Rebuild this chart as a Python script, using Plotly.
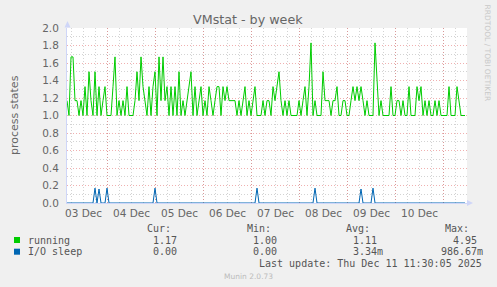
import plotly.graph_objects as go
from datetime import datetime, timedelta

# ---------------- data ----------------
start_time = datetime(2025, 12, 3, 3, 50)
hours_span = 200

running = [
    1.17, 1.0, 1.67, 1.67, 1.17, 1.17, 1.0, 1.17, 1.0, 1.33,
    1.0, 1.5, 1.17, 1.0, 1.5, 1.0, 1.33, 1.0, 1.17, 1.33,
    1.0, 1.0, 1.0, 1.33, 1.67, 1.0, 1.17, 1.0, 1.17, 1.0,
    1.33, 1.0, 1.0, 1.0, 1.17, 1.5, 1.17, 1.67, 1.33, 1.17,
    1.0, 1.33, 1.0, 1.33, 1.5, 1.0, 1.67, 1.17, 1.67, 1.17,
    1.33, 1.0, 1.33, 1.0, 1.33, 1.0, 1.5, 1.0, 1.17, 1.0,
    1.17, 1.33, 1.5, 1.0, 1.33, 1.0, 1.17, 1.33, 1.0, 1.17,
    1.0, 1.33, 1.17, 1.0, 1.17, 1.33, 1.33, 1.0, 1.33, 1.17,
    1.33, 1.17, 1.17, 1.17, 1.17, 1.0, 1.17, 1.0, 1.17, 1.33,
    1.0, 1.17, 1.0, 1.17, 1.33, 1.0, 1.0, 1.0, 1.17, 1.0,
    1.17, 1.17, 1.0, 1.33, 1.17, 1.33, 1.5, 1.17, 1.0, 1.17,
    1.0, 1.17, 1.0, 1.0, 1.0, 1.0, 1.17, 1.0, 1.17, 1.33,
    1.0, 1.33, 1.83, 1.0, 1.17, 1.0, 1.0, 1.0, 1.5, 1.17,
    1.17, 1.17, 1.0, 1.17, 1.17, 1.33, 1.0, 1.0, 1.17, 1.17,
    1.0, 1.0, 1.17, 1.33, 1.17, 1.33, 1.17, 1.33, 1.17, 1.0,
    1.17, 1.0, 1.0, 1.0, 1.83, 1.33, 1.0, 1.17, 1.0, 1.0,
    1.0, 1.0, 1.33, 1.0, 1.0, 1.17, 1.17, 1.0, 1.17, 1.0,
    1.0, 1.33, 1.0, 1.0, 1.0, 1.33, 1.17, 1.33, 1.0, 1.17,
    1.0, 1.17, 1.0, 1.0, 1.17, 1.0, 1.17, 1.0, 1.0, 1.0,
    1.0, 1.33, 1.0, 1.0, 1.0, 1.33, 1.17, 1.0, 1.0, 1.0,
]

io_sleep = [
    0, 0, 0, 0, 0, 0, 0, 0, 0, 0,
    0, 0, 0, 0, 0.17, 0, 0.16, 0, 0, 0,
    0.17, 0, 0, 0, 0, 0, 0, 0, 0, 0,
    0, 0, 0, 0, 0, 0, 0, 0, 0, 0,
    0, 0, 0, 0, 0.17, 0, 0, 0, 0, 0,
    0, 0, 0, 0, 0, 0, 0, 0, 0, 0,
    0, 0, 0, 0, 0, 0, 0, 0, 0, 0,
    0, 0, 0, 0, 0, 0, 0, 0, 0, 0,
    0, 0, 0, 0, 0, 0, 0, 0, 0, 0,
    0, 0, 0, 0, 0, 0.17, 0, 0, 0, 0,
    0, 0, 0, 0, 0, 0, 0, 0, 0, 0,
    0, 0, 0, 0, 0, 0, 0, 0, 0, 0,
    0, 0, 0, 0, 0.17, 0, 0, 0, 0, 0,
    0, 0, 0, 0, 0, 0, 0, 0, 0, 0,
    0, 0, 0, 0, 0, 0, 0, 0.16, 0, 0,
    0, 0, 0, 0.17, 0, 0, 0, 0, 0, 0,
    0, 0, 0, 0, 0, 0, 0, 0, 0, 0,
    0, 0, 0, 0, 0, 0, 0, 0, 0, 0,
    0, 0, 0, 0, 0, 0, 0, 0, 0, 0,
    0, 0, 0, 0, 0, 0, 0, 0, 0, 0,
]

day_labels = ["03 Dec", "04 Dec", "05 Dec", "06 Dec", "07 Dec", "08 Dec", "09 Dec", "10 Dec"]
series_names = ["running", "I/O sleep"]
series_colors = ["#00CC00", "#0066B3"]
legend_cur = ["1.17", "0.00"]
legend_min = ["1.00", "0.00"]
legend_avg = ["1.11", "3.34m"]
legend_max = ["4.95", "986.67m"]
last_update = "Last update: Thu Dec 11 11:30:05 2025"
title_text = "VMstat - by week"
y_title = "process states"

# ---------------- layout helpers ----------------
W, H = 497, 287
L, R, T, B = 67, 467, 28, 203  # plot area in pixels


def px(x):
    return (x - L) / (R - L)


def py(y):
    return (B - y) / (B - T)


times = [start_time + timedelta(hours=i) for i in range(len(running))]
end_time = start_time + timedelta(hours=hours_span)

fig = go.Figure()
fig.add_trace(go.Scatter(x=times, y=running, mode="lines",
                         line=dict(color=series_colors[0], width=1), name=series_names[0]))
fig.add_trace(go.Scatter(x=times[:len(io_sleep)], y=io_sleep, mode="lines",
                         line=dict(color=series_colors[1], width=1), name=series_names[1]))

midnights = []
d = datetime(start_time.year, start_time.month, start_time.day) + timedelta(days=1)
while d <= end_time:
    midnights.append(d)
    d += timedelta(days=1)

FONT = "DejaVu Sans"
MONO = "DejaVu Sans Mono"
GRID = "rgba(150,150,150,0.42)"
MGRID = "rgba(222,79,79,0.45)"
AXIS = "#CFD6F8"

fig.update_layout(
    width=W, height=H,
    margin=dict(l=L, r=W - R, t=T, b=H - B, pad=0, autoexpand=False),
    paper_bgcolor="#F0F0F0", plot_bgcolor="#FFFFFF",
    showlegend=False,
    xaxis=dict(
        type="date", range=[start_time, end_time],
        tickmode="array", tickvals=midnights, showticklabels=False, ticks="",
        showgrid=True, gridcolor=MGRID, griddash="1px,2px", gridwidth=1,
        minor=dict(dtick=6 * 3600 * 1000, tick0=midnights[0], showgrid=True,
                   gridcolor=GRID, griddash="1px,2px", gridwidth=1, ticks=""),
        showline=True, linecolor=AXIS, linewidth=1, zeroline=False,
    ),
    yaxis=dict(
        range=[0, 2.0], dtick=0.2, tick0=0, tickformat=".1f",
        showgrid=True, gridcolor=MGRID, griddash="1px,2px", gridwidth=1,
        minor=dict(dtick=0.1, showgrid=True, gridcolor=GRID, griddash="1px,2px", gridwidth=1, ticks=""),
        ticks="", ticklabelstandoff=5,
        tickfont=dict(family=FONT, size=10.5, color="#666666"),
        showline=True, linecolor=AXIS, linewidth=1, zeroline=False,
    ),
)

ann = []
# title
ann.append(dict(x=px(248), y=py(20), xref="paper", yref="paper", text=title_text,
                showarrow=False, xanchor="center", yanchor="middle",
                font=dict(family=FONT, size=12.7, color="#666666")))
# y title
ann.append(dict(x=px(14), y=py(115), xref="paper", yref="paper", text=y_title, textangle=-90,
                showarrow=False, xanchor="center", yanchor="middle",
                font=dict(family=FONT, size=11, color="#666666")))
# right vertical text
ann.append(dict(x=px(487.5), y=py(53), xref="paper", yref="paper", text="RRDTOOL / TOBI OETIKER",
                textangle=90, showarrow=False, xanchor="center", yanchor="middle",
                font=dict(family=FONT, size=7.5, color="#C8C8C8")))
# day labels at noon
for i, lab in enumerate(day_labels):
    noon = datetime(start_time.year, start_time.month, start_time.day, 12) + timedelta(days=i)
    ann.append(dict(x=noon, y=py(213), xref="x", yref="paper", text=lab, showarrow=False,
                    xanchor="center", yanchor="middle", borderpad=0,
                    font=dict(family=FONT, size=10.5, color="#666666")))

LEG = dict(family=MONO, size=10, color="#555555")
hdr_right = [172, 272, 371, 470]
col_right = [184, 284, 384, 483.5]
for txt, xr in zip(["Cur:", "Min:", "Avg:", "Max:"], hdr_right):
    ann.append(dict(x=px(xr), y=py(228.5), xref="paper", yref="paper", text=txt, showarrow=False,
                    xanchor="right", yanchor="middle", borderpad=0, font=LEG))
row_y = [240, 251.7]
shapes = []
for r in range(2):
    ann.append(dict(x=px(26.5), y=py(row_y[r]), xref="paper", yref="paper", text=series_names[r],
                    showarrow=False, xanchor="left", yanchor="middle", borderpad=0, font=LEG))
    vals = [legend_cur[r], legend_min[r], legend_avg[r], legend_max[r]]
    for v, xr in zip(vals, col_right):
        t = v if v.endswith("m") else v + "\u00a0"
        ann.append(dict(x=px(xr), y=py(row_y[r]), xref="paper", yref="paper", text=t,
                        showarrow=False, xanchor="right", yanchor="middle", borderpad=0, font=LEG))
    shapes.append(dict(type="rect", xref="paper", yref="paper",
                       x0=px(14), x1=px(20), y0=py(row_y[r] + 3), y1=py(row_y[r] - 3),
                       fillcolor=series_colors[r], line=dict(width=0)))

ann.append(dict(x=px(483), y=py(263.3), xref="paper", yref="paper", text=last_update, showarrow=False,
                xanchor="right", yanchor="middle", borderpad=0, font=LEG))
ann.append(dict(x=px(248), y=py(276), xref="paper", yref="paper", text="Munin 2.0.73", showarrow=False,
                xanchor="center", yanchor="middle", borderpad=0,
                font=dict(family=FONT, size=7.5, color="#BBBBBB")))

# axis arrows
shapes.append(dict(type="path", xref="paper", yref="paper",
                   path=f"M {px(64.5)} {py(27.5)} L {px(67.5)} {py(21)} L {px(70.5)} {py(27.5)} Z",
                   fillcolor=AXIS, line=dict(width=0)))
shapes.append(dict(type="path", xref="paper", yref="paper",
                   path=f"M {px(467)} {py(200)} L {px(473)} {py(203)} L {px(467)} {py(206)} Z",
                   fillcolor=AXIS, line=dict(width=0)))

fig.update_layout(annotations=ann, shapes=shapes)
fig.write_html("out.html")
